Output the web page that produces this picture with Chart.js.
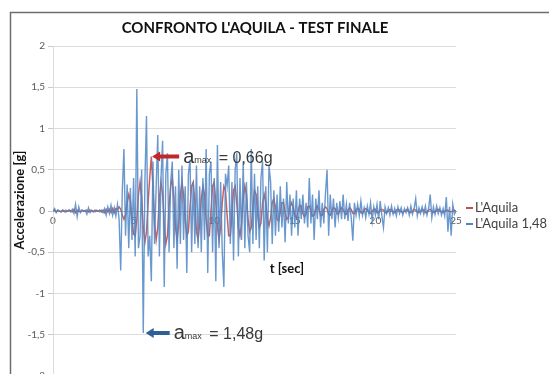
<!DOCTYPE html>
<html>
<head>
<meta charset="utf-8">
<script src="https://cdn.jsdelivr.net/npm/chart.js@4"></script>
<style>
  html, body { margin: 0; padding: 0; background: #fff; overflow: hidden; }
  #wrap { width: 549px; height: 374px; overflow: hidden; }
</style>
</head>
<body>
<div id="wrap"><canvas id="chart" width="549" height="400"></canvas></div>
<script>
// acceleration [g], one value every 0.1 s from 0 to 25 s (one row = 1 s)
const blueAcc = [
  0, 0.03, -0.02, 0.01, 0, -0.01, 0.01, -0.01, 0.01, 0,
  0.01, -0.01, 0.02, -0.03, 0.08, -0.07, 0.05, -0.02, 0.01, 0,
  0.01, -0.04, 0.04, -0.02, 0.01, 0, -0.01, 0.01, 0, -0.01,
  0.01, -0.02, 0.03, -0.05, 0.05, -0.03, 0.07, -0.05, 0.04, -0.06,
  0.08, -0.1, -0.72, 0.25, 0.75, -0.3, 0.32, -0.45, 0.28, -0.35,
  0.4, -0.55, 1.48, -0.45, -0.3, 0.5, -1.48, 0.35, 1.15, -0.55,
  -0.3, -0.85, 0.6, -0.4, 0.3, 0.92, -0.55, 0.4, 0.85, -0.92,
  0.45, 0.7, -0.5, 0.35, 0.6, -0.45, 0.3, -0.7, 0.5, -0.4,
  0.55, -0.35, 0.3, -0.75, 0.45, 0.62, -0.5, 0.35, -0.4, 0.55,
  -0.45, 0.3, -0.5, 0.4, -0.35, 0.75, -0.75, 0.45, 0.6, -0.5,
  0.4, -0.85, 0.8, -0.45, 0.35, -0.5, -0.92, 0.45, 0.3, 0.55,
  -0.4, 0.35, -0.6, 0.5, 0.7, -0.55, 0.4, -0.35, 0.6, -0.45,
  0.35, -0.3, -0.5, 0.75, -0.4, 0.45, -0.35, 0.3, -0.45, 0.4,
  0.6, -0.6, 0.3, -0.5, 0.55, 0.35, -0.4, 0.25, -0.3, 0.2,
  -0.25, 0.3, -0.2, 0.15, -0.38, 0.35, -0.15, 0.2, -0.3, 0.15,
  -0.2, 0.25, -0.3, 0.15, -0.1, 0.2, -0.15, 0.1, -0.2, 0.4,
  -0.15, 0.2, -0.35, 0.15, -0.1, 0.25, -0.2, 0.1, -0.15, 0.2,
  0.5, -0.3, 0.2, -0.1, 0.15, -0.2, 0.1, -0.08, 0.12, -0.1,
  0.2, -0.1, 0.08, -0.12, 0.1, -0.08, -0.36, 0.1, -0.05, 0.08,
  -0.06, 0.12, -0.05, 0.04, -0.08, 0.06, -0.04, 0.1, -0.12, 0.05,
  -0.05, 0.08, -0.1, 0.12, -0.06, -0.2, 0.05, -0.03, 0.04, -0.05,
  0.06, -0.04, 0.03, -0.06, 0.05, -0.03, 0.04, -0.05, 0.03, -0.02,
  0.04, -0.05, 0.06, -0.04, 0.03, 0.15, -0.06, 0.04, -0.03, 0.05,
  -0.04, 0.06, -0.05, 0.03, 0.2, -0.08, 0.05, -0.04, 0.06, -0.03,
  0.04, -0.05, 0.03, -0.06, 0.17, -0.25, 0.05, -0.3, 0.08, -0.04,
  0
];

const redAcc = [
  0, 0.01, -0.01, 0.01, 0, -0.01, 0.01, 0, -0.01, 0,
  0.01, 0, -0.01, 0.02, -0.02, 0.01, 0, -0.01, 0.01, 0,
  0, 0.01, -0.01, 0.01, 0, -0.01, 0.01, 0, 0, 0.01,
  -0.01, 0.01, -0.02, 0.02, -0.01, 0.02, -0.02, 0.03, -0.02, 0.03,
  0.02, 0.05, 0.02, -0.05, -0.1, -0.05, 0.1, 0.2, 0.12, -0.1,
  -0.28, -0.3, -0.1, 0.2, 0.35, 0.15, -0.2, -0.38, -0.25, 0.1,
  0.4, 0.66, 0.3, -0.15, -0.35, -0.2, 0.15, 0.35, 0.2, -0.15,
  -0.4, -0.3, 0.05, 0.3, 0.4, 0.15, -0.2, -0.35, -0.15, 0.2,
  0.35, 0.2, -0.1, -0.3, -0.25, 0.05, 0.3, 0.35, 0.1, -0.25,
  -0.35, -0.15, 0.15, 0.3, 0.2, -0.1, -0.3, -0.3, 0, 0.3,
  0.35, 0.1, -0.2, -0.35, -0.2, 0.1, 0.3, 0.25, -0.05, -0.3,
  -0.3, -0.05, 0.25, 0.3, 0.1, -0.2, -0.3, -0.15, 0.15, 0.3,
  0.2, -0.1, -0.25, -0.2, 0.05, 0.25, 0.2, -0.05, -0.2, -0.15,
  0.1, 0.2, 0.1, -0.1, -0.18, -0.08, 0.1, 0.15, 0.05, -0.1,
  -0.12, -0.02, 0.1, 0.1, -0.02, -0.1, -0.08, 0.05, 0.1, 0.04,
  -0.06, -0.08, 0, 0.07, 0.06, -0.03, -0.07, -0.03, 0.05, 0.06,
  0, -0.06, -0.05, 0.03, 0.06, 0.02, -0.05, -0.05, 0.02, 0.05,
  0.03, -0.04, -0.05, 0, 0.04, 0.03, -0.03, -0.04, 0.01, 0.04,
  0.02, -0.03, -0.04, 0.01, 0.04, 0.02, -0.03, -0.03, 0.01, 0.03,
  0.02, -0.02, -0.03, 0.01, 0.03, 0.01, -0.02, -0.03, 0, 0.02,
  0.02, -0.02, -0.02, 0.01, 0.02, 0.01, -0.02, -0.02, 0, 0.02,
  0.01, -0.02, -0.02, 0.01, 0.02, 0.01, -0.01, -0.02, 0, 0.01,
  0.02, -0.01, -0.02, 0, 0.02, 0.01, -0.01, -0.02, 0, 0.02,
  0.01, -0.02, -0.01, 0.01, 0.02, 0, -0.02, -0.01, 0.01, 0.02,
  0.01, -0.01, -0.02, 0, 0.01, 0.01, -0.01, -0.01, 0, 0.01,
  0
];

const seriesNames = ["L'Aquila", "L'Aquila 1,48"];
const seriesColors = ["#c0504d", "#4f86c6"];
const sampleStep = 0.1; // s
const times = blueAcc.map((_, i) => +(i * sampleStep).toFixed(1));

// peak callouts: arrow tip at (t, a)
const peakRed = { t: 6.15, a: 0.66, label: "0,66g", color: "#c0282a" };
const peakBlue = { t: 5.75, a: -1.48, label: "1,48g", color: "#2f5f98" };

const fmt = (v) => String(v).replace(".", ",");

function drawArrow(ctx, x0, y0, len, color) {
  ctx.fillStyle = color;
  ctx.beginPath();
  ctx.moveTo(x0, y0);
  ctx.lineTo(x0 + 8, y0 - 5);
  ctx.lineTo(x0 + 8, y0 - 2);
  ctx.lineTo(x0 + len, y0 - 2);
  ctx.lineTo(x0 + len, y0 + 2);
  ctx.lineTo(x0 + 8, y0 + 2);
  ctx.lineTo(x0 + 8, y0 + 5);
  ctx.closePath();
  ctx.fill();
}

function drawCallout(ctx, x, y, peak, len) {
  const px = x.getPixelForValue(peak.t);
  const py = y.getPixelForValue(peak.a);
  drawArrow(ctx, px, py, len, peak.color);
  let tx = px + len + 4;
  const base = py + 6;
  ctx.fillStyle = "#3a3a3a";
  ctx.textAlign = "left";
  ctx.textBaseline = "alphabetic";
  ctx.font = "20px 'Liberation Sans'";
  ctx.fillText("a", tx, base);
  tx += ctx.measureText("a").width;
  ctx.font = "9px 'Liberation Sans'";
  ctx.fillText("max", tx, base);
  tx += ctx.measureText("max").width;
  ctx.font = "16px 'Liberation Sans'";
  ctx.fillText(" = " + peak.label, tx + 3, base);
}

const decor = {
  id: "decor",
  afterDraw(chart) {
    const { ctx } = chart;
    const { x, y } = chart.scales;
    ctx.save();
    // outer frame
    ctx.strokeStyle = "#6e6e6e";
    ctx.lineWidth = 1.5;
    ctx.strokeRect(10.5, 12.5, 700, 600);

    // title
    ctx.fillStyle = "#111";
    ctx.font = "bold 15px Lato";
    ctx.textAlign = "center";
    ctx.textBaseline = "middle";
    ctx.fillText("CONFRONTO L'AQUILA - TEST FINALE", 255, 28);

    // axis titles
    ctx.font = "bold 13px Lato";
    ctx.fillText("t [sec]", 287, 269);
    ctx.save();
    ctx.translate(20, 200);
    ctx.rotate(-Math.PI / 2);
    ctx.fillText("Accelerazione [g]", 0, 0);
    ctx.restore();

    // legend
    ctx.font = "13px Lato";
    ctx.textAlign = "left";
    seriesNames.forEach((name, i) => {
      const ly = 208 + i * 16;
      ctx.fillStyle = seriesColors[i];
      ctx.fillRect(466, ly - 1, 7, 2);
      ctx.fillStyle = "#404040";
      ctx.fillText(name, 475, ly);
    });

    drawCallout(ctx, x, y, peakRed, 27);
    drawCallout(ctx, x, y, peakBlue, 24);
    ctx.restore();
  }
};

new Chart(document.getElementById("chart"), {
  type: "line",
  data: {
    datasets: [
      {
        label: seriesNames[0],
        data: times.map((t, i) => ({ x: t, y: redAcc[i] })),
        borderColor: "rgba(192,80,77,0.9)",
        borderWidth: 1.5,
        pointRadius: 0,
        tension: 0,
        order: 2
      },
      {
        label: seriesNames[1],
        data: times.map((t, i) => ({ x: t, y: blueAcc[i] })),
        borderColor: "rgba(79,134,198,0.85)",
        borderWidth: 1.4,
        pointRadius: 0,
        tension: 0,
        order: 1
      }
    ]
  },
  options: {
    responsive: false,
    animation: false,
    devicePixelRatio: 1,
    layout: { padding: { top: 46, right: 93, bottom: 24, left: 0 } },
    plugins: {
      legend: { display: false },
      title: { display: false },
      tooltip: { enabled: false }
    },
    scales: {
      x: {
        type: "linear",
        min: 0,
        max: 25,
        position: { y: 0 },
        grid: { display: false },
        border: { display: true, color: "#a6a6a6" },
        ticks: {
          stepSize: 5,
          autoSkip: false,
          maxRotation: 0,
          padding: -4,
          color: "#595959",
          font: { family: "Lato", size: 10 }
        }
      },
      y: {
        min: -2,
        max: 2,
        afterFit(scale) { scale.width = 53; },
        grid: { color: "#dcdcdc", tickLength: 5, tickColor: "#c8c8c8" },
        border: { color: "#dcdcdc" },
        ticks: {
          stepSize: 0.5,
          padding: 3,
          color: "#595959",
          font: { family: "Lato", size: 10 },
          callback: (v) => fmt(v)
        }
      }
    }
  },
  plugins: [decor]
});
</script>
</body>
</html>
